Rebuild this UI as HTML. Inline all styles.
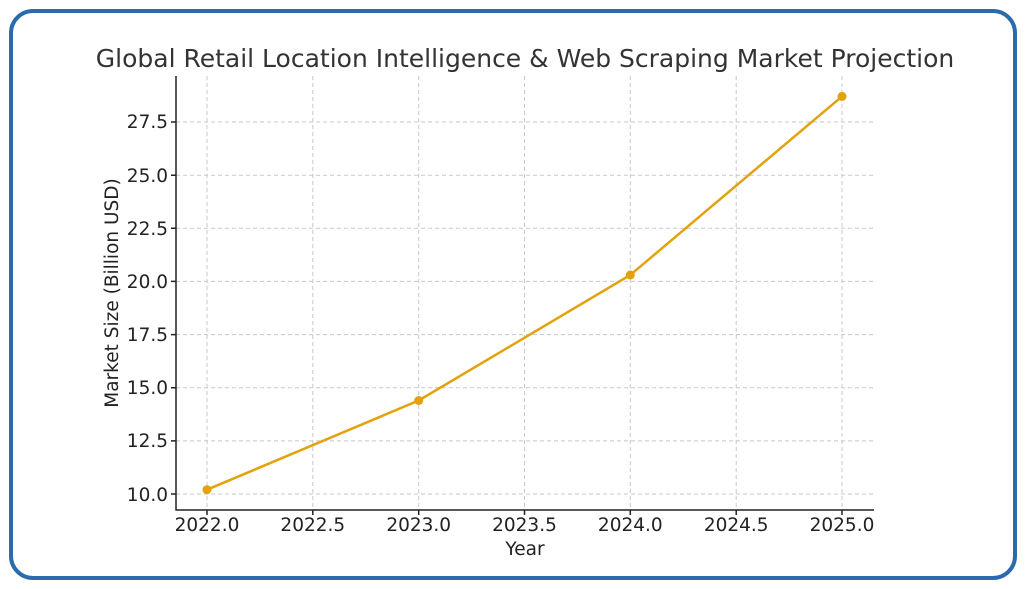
<!DOCTYPE html>
<html><head><meta charset="utf-8"><style>html,body{margin:0;padding:0;background:#fff}svg{display:block}</style></head>
<body>
<svg width="1026" height="589" xmlns="http://www.w3.org/2000/svg" font-family="DejaVu Sans, sans-serif">
<rect x="0" y="0" width="1026" height="589" fill="#fff"/>
<rect x="11" y="11" width="1004" height="567" rx="22" ry="22" fill="#fff" stroke="#2a6aad" stroke-width="4"/>
<text x="525" y="67" text-anchor="middle" font-size="25" fill="#333">Global Retail Location Intelligence &amp; Web Scraping Market Projection</text>
<g stroke="#c8c8c8" stroke-width="1" stroke-dasharray="4,3">
<line x1="207" y1="76" x2="207" y2="510"/><line x1="312.8" y1="76" x2="312.8" y2="510"/><line x1="418.7" y1="76" x2="418.7" y2="510"/><line x1="524.5" y1="76" x2="524.5" y2="510"/><line x1="630.3" y1="76" x2="630.3" y2="510"/><line x1="736.2" y1="76" x2="736.2" y2="510"/><line x1="842" y1="76" x2="842" y2="510"/>
<line x1="176" y1="494" x2="874" y2="494"/><line x1="176" y1="440.9" x2="874" y2="440.9"/><line x1="176" y1="387.7" x2="874" y2="387.7"/><line x1="176" y1="334.6" x2="874" y2="334.6"/><line x1="176" y1="281.4" x2="874" y2="281.4"/><line x1="176" y1="228.3" x2="874" y2="228.3"/><line x1="176" y1="175.2" x2="874" y2="175.2"/><line x1="176" y1="122" x2="874" y2="122"/>
</g>
<g stroke="#222" stroke-width="1.5" fill="none">
<line x1="176" y1="76" x2="176" y2="510.5"/><line x1="175.5" y1="510" x2="874" y2="510"/>
<path d="M207 510v5M312.8 510v5M418.7 510v5M524.5 510v5M630.3 510v5M736.2 510v5M842 510v5"/>
<path d="M176 494h-5M176 440.9h-5M176 387.7h-5M176 334.6h-5M176 281.4h-5M176 228.3h-5M176 175.2h-5M176 122h-5"/>
</g>
<g font-size="18.5" fill="#222" text-anchor="middle">
<text x="207" y="531">2022.0</text><text x="312.8" y="531">2022.5</text><text x="418.7" y="531">2023.0</text><text x="524.5" y="531">2023.5</text><text x="630.3" y="531">2024.0</text><text x="736.2" y="531">2024.5</text><text x="842" y="531">2025.0</text>
</g>
<g font-size="18.5" fill="#222" text-anchor="end">
<text x="168" y="501">10.0</text><text x="168" y="447">12.5</text><text x="168" y="394">15.0</text><text x="168" y="341">17.5</text><text x="168" y="288">20.0</text><text x="168" y="235">22.5</text><text x="168" y="182">25.0</text><text x="168" y="128">27.5</text>
</g>
<text x="525" y="555" text-anchor="middle" font-size="18.5" fill="#222">Year</text>
<text transform="translate(118,293) rotate(-90)" text-anchor="middle" font-size="18.5" fill="#222">Market Size (Billion USD)</text>
<polyline points="207,489.7 418.7,400.5 630.3,275 842,96.4" fill="none" stroke="#e3a20c" stroke-width="2.5"/>
<g fill="#e3a20c"><circle cx="207" cy="489.7" r="4.5"/><circle cx="418.7" cy="400.5" r="4.5"/><circle cx="630.3" cy="275" r="4.5"/><circle cx="842" cy="96.4" r="4.5"/></g>
</svg>
</body></html>
